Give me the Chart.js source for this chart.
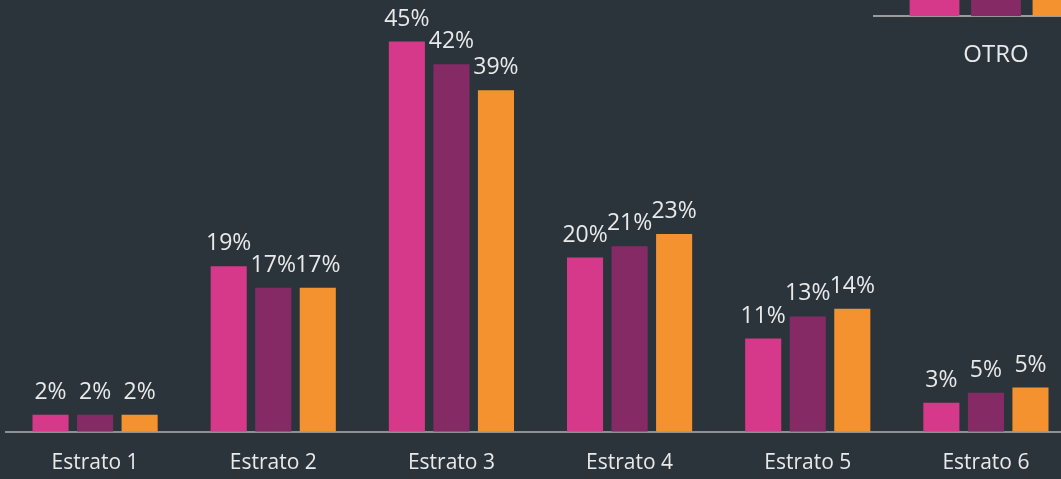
<!DOCTYPE html>
<html>
<head>
<meta charset="utf-8">
<script src="https://cdn.jsdelivr.net/npm/chart.js@4.4.0/dist/chart.umd.min.js"></script>
<style>
    html, body { margin: 0; padding: 0; background: #2c343b; overflow: hidden; width: 1061px; height: 479px; }
    #graph-canvas { position: absolute; left: 0; top: 0; }
    #mini-canvas { position: absolute; left: 873px; top: -259px; }
</style>
</head>
<body>
<canvas id="graph-canvas" width="1075" height="503"></canvas>
<canvas id="mini-canvas" width="246" height="360"></canvas>
<script>
var categories = ['Estrato 1', 'Estrato 2', 'Estrato 3', 'Estrato 4', 'Estrato 5', 'Estrato 6'];
var serie1 = [1.97, 19.1, 45.0, 20.1, 10.75, 3.35];
var serie2 = [1.97, 16.6, 42.4, 21.4, 13.3, 4.5];
var serie3 = [1.97, 16.6, 39.4, 22.8, 14.2, 5.1];

var miniCategories = ['OTRO'];
var miniSerie1 = [38];
var miniSerie2 = [36];
var miniSerie3 = [33];

var barColors = ['#d6398a', '#862a66', '#f4922f'];
var textColor = '#e8e9ea';
var fontFamily = "'Open Sans', sans-serif";

var valueLabels = {
    id: 'valueLabels',
    afterDatasetsDraw(chart) {
        let ctx = chart.ctx;
        ctx.save();
        ctx.fillStyle = textColor;
        ctx.font = '23px ' + fontFamily;
        ctx.textAlign = 'center';
        ctx.textBaseline = 'alphabetic';
        chart.data.datasets.forEach((ds, i) => {
            let meta = chart.getDatasetMeta(i);
            meta.data.forEach((bar, j) => {
                ctx.fillText(Math.round(ds.data[j]) + '%', bar.x, bar.y - 16);
            });
        });
        ctx.restore();
    }
};

function makeDatasets(a, b, c) {
    return [a, b, c].map((d, i) => ({
        data: d,
        backgroundColor: barColors[i],
        borderWidth: 0,
        categoryPercentage: 0.75,
        barPercentage: 0.81
    }));
}

var config = {
    type: 'bar',
    data: { labels: categories, datasets: makeDatasets(serie1, serie2, serie3) },
    options: {
        responsive: false,
        animation: false,
        layout: { padding: { left: 6, right: 0, top: 0, bottom: 8 } },
        plugins: { legend: { display: false }, tooltip: { enabled: false } },
        scales: {
            x: {
                grid: { display: false, drawTicks: false },
                border: { display: true, color: '#8e9194', width: 2 },
                ticks: { color: textColor, padding: 19, font: { size: 21, family: fontFamily } }
            },
            y: { display: false, min: 0, max: 49.8 }
        }
    },
    plugins: [valueLabels]
};

var miniConfig = {
    type: 'bar',
    data: { labels: miniCategories, datasets: makeDatasets(miniSerie1, miniSerie2, miniSerie3) },
    options: {
        responsive: false,
        animation: false,
        layout: { padding: { left: 0, right: 0, top: 0, bottom: 6 } },
        plugins: { legend: { display: false }, tooltip: { enabled: false } },
        scales: {
            x: {
                grid: { display: false, drawTicks: false },
                border: { display: true, color: '#9a9c9e', width: 2 },
                ticks: { color: textColor, padding: 25, font: { size: 24, family: fontFamily } }
            },
            y: { display: false, min: 0, max: 40 }
        }
    }
};

var chart = new Chart(document.getElementById('graph-canvas').getContext('2d'), config);
var miniChart = new Chart(document.getElementById('mini-canvas').getContext('2d'), miniConfig);
</script>
</body>
</html>
